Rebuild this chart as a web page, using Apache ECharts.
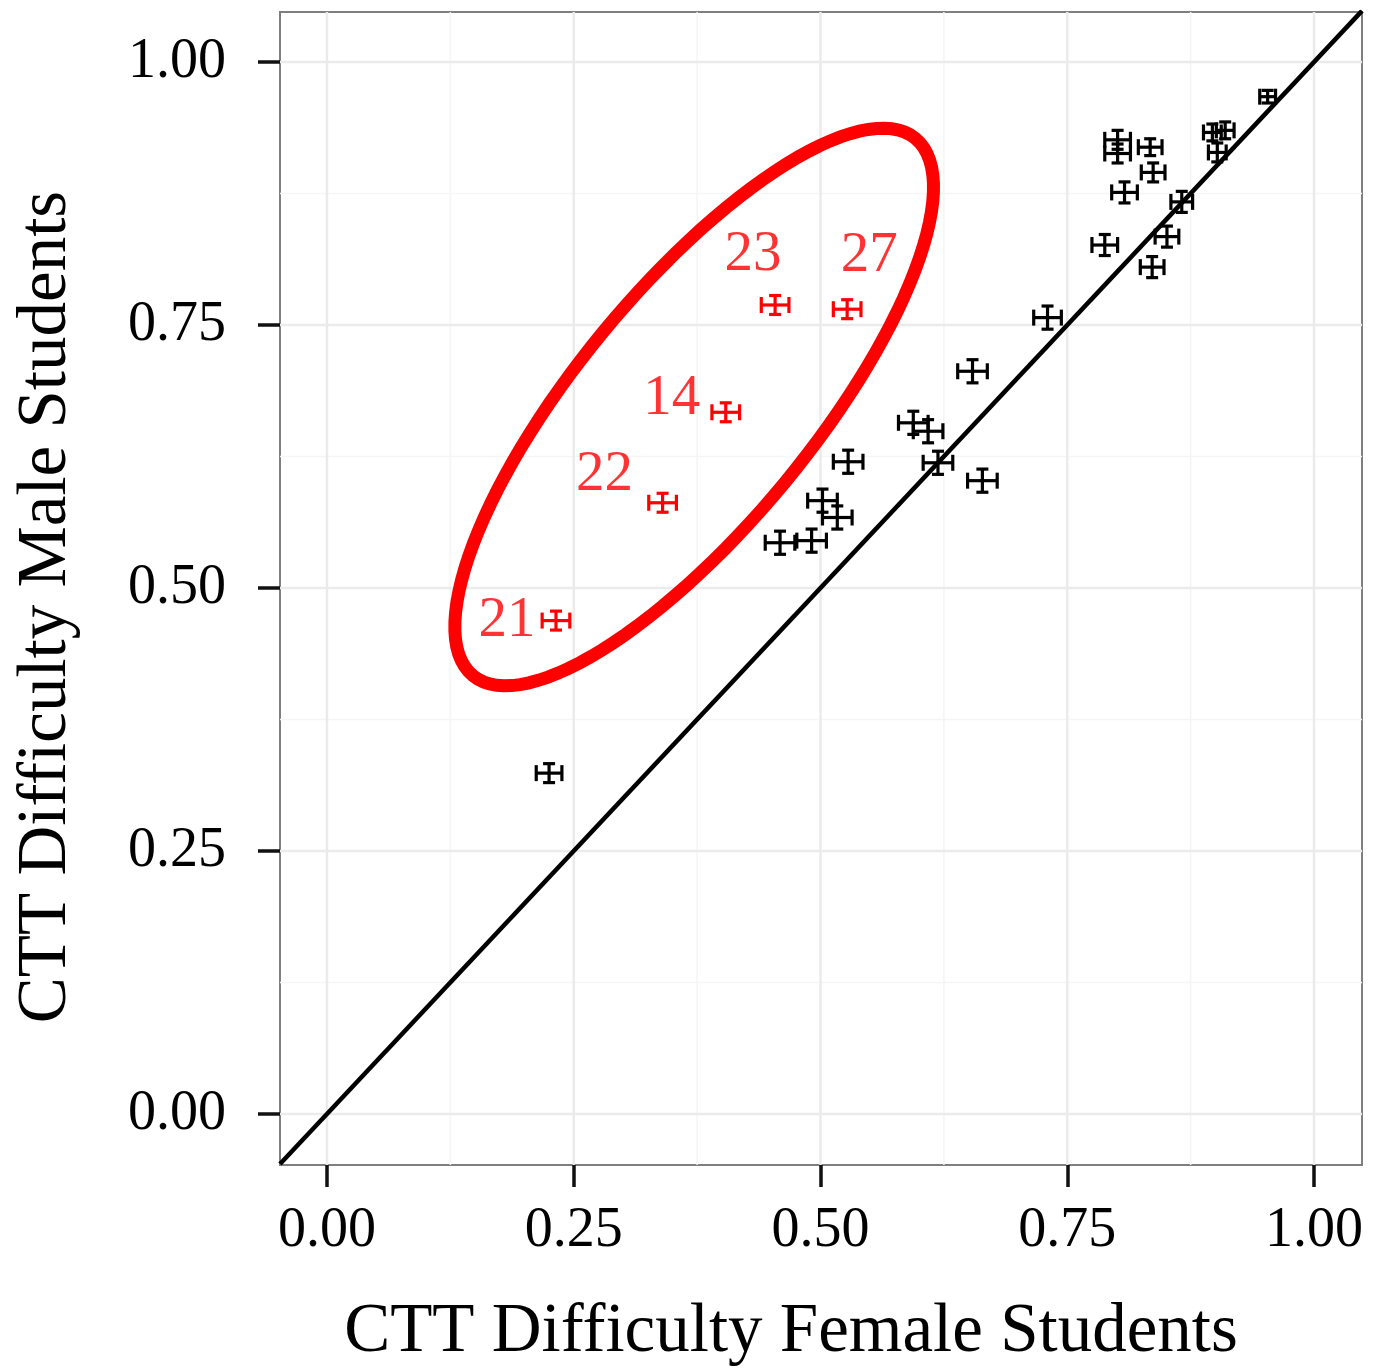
<!DOCTYPE html>
<html>
<head>
<meta charset="utf-8">
<script src="https://cdn.jsdelivr.net/npm/echarts@6/dist/echarts.min.js"></script>
<style>
  html, body { margin: 0; padding: 0; background: #fff; }
  #chart { width: 1378px; height: 1369px; }
</style>
</head>
<body>
<div id="chart"></div>
<script>
// tick values / labels
var tickValues = [0, 0.25, 0.5, 0.75, 1];
var tickLabels = ["0.00", "0.25", "0.50", "0.75", "1.00"];
var minorValues = [0.125, 0.375, 0.625, 0.875];

// items close to the diagonal (black)
var femaleDiff = [0.953, 0.897, 0.910, 0.902, 0.801, 0.801, 0.834, 0.837, 0.808, 0.866, 0.788, 0.851, 0.836,
  0.730, 0.654, 0.594, 0.609, 0.528, 0.619, 0.664, 0.502, 0.517, 0.459, 0.491, 0.225];
var maleDiff = [0.967, 0.933, 0.935, 0.914, 0.926, 0.913, 0.919, 0.895, 0.876, 0.867, 0.826, 0.834, 0.805,
  0.757, 0.706, 0.657, 0.649, 0.620, 0.619, 0.602, 0.583, 0.567, 0.543, 0.545, 0.324];
var femaleErr = [0.008, 0.009, 0.009, 0.009, 0.013, 0.013, 0.012, 0.012, 0.013, 0.011, 0.013, 0.012, 0.012,
  0.014, 0.015, 0.015, 0.015, 0.015, 0.015, 0.015, 0.015, 0.015, 0.015, 0.015, 0.013];
var maleErr = [0.006, 0.008, 0.008, 0.009, 0.009, 0.009, 0.008, 0.009, 0.010, 0.010, 0.010, 0.010, 0.010,
  0.011, 0.011, 0.011, 0.011, 0.011, 0.011, 0.011, 0.011, 0.011, 0.011, 0.011, 0.009];

// flagged items (red)
var flagItems = ["21", "22", "14", "23", "27"];
var flagFemale = [0.232, 0.340, 0.404, 0.454, 0.527];
var flagMale = [0.469, 0.581, 0.667, 0.769, 0.765];
var flagFemaleErr = [0.014, 0.014, 0.014, 0.014, 0.014];
var flagMaleErr = [0.009, 0.009, 0.009, 0.009, 0.009];

var xMin = -0.0476, xMax = 1.0486;
var yMin = -0.0485, yMax = 1.0475;

// label offsets in px (style, not data)
var labelOffset = { "21": [-49, 0], "22": [-58, -28], "14": [-54, -13], "23": [-22, -50], "27": [22, -53] };

var serif = "Liberation Serif";

function errorBars(color) {
  return function (params, api) {
    var x = api.value(0), y = api.value(1), xe = api.value(2), ye = api.value(3);
    var l = api.coord([x - xe, y]);
    var r = api.coord([x + xe, y]);
    var t = api.coord([x, y + ye]);
    var b = api.coord([x, y - ye]);
    var st = { stroke: color, lineWidth: 3.2 };
    var hc = 8, vc = 6;
    return {
      type: "group",
      children: [
        { type: "line", shape: { x1: l[0], y1: l[1], x2: r[0], y2: r[1] }, style: st },
        { type: "line", shape: { x1: l[0], y1: l[1] - hc, x2: l[0], y2: l[1] + hc }, style: st },
        { type: "line", shape: { x1: r[0], y1: r[1] - hc, x2: r[0], y2: r[1] + hc }, style: st },
        { type: "line", shape: { x1: t[0], y1: t[1], x2: b[0], y2: b[1] }, style: st },
        { type: "line", shape: { x1: t[0] - vc, y1: t[1], x2: t[0] + vc, y2: t[1] }, style: st },
        { type: "line", shape: { x1: b[0] - vc, y1: b[1], x2: b[0] + vc, y2: b[1] }, style: st }
      ]
    };
  };
}

function gridLines(params, api) {
  var cs = params.coordSys;
  var v = api.value(0), dir = api.value(1), major = api.value(2);
  var st = { stroke: major ? "#ebebeb" : "#f5f5f5", lineWidth: major ? 2.5 : 1.5 };
  if (dir === 0) {
    var px = api.coord([v, yMin])[0];
    return { type: "line", shape: { x1: px, y1: cs.y, x2: px, y2: cs.y + cs.height }, style: st };
  }
  var py = api.coord([xMin, v])[1];
  return { type: "line", shape: { x1: cs.x, y1: py, x2: cs.x + cs.width, y2: py }, style: st };
}

var gridData = [];
minorValues.forEach(function (v) { gridData.push([v, 0, 0]); gridData.push([v, 1, 0]); });
tickValues.forEach(function (v) { gridData.push([v, 0, 1]); gridData.push([v, 1, 1]); });

var chart = echarts.init(document.getElementById("chart"));
var option = {
  animation: false,
  grid: {
    left: 280, top: 12, right: 16, bottom: 204,
    show: true, borderColor: "#7f7f7f", borderWidth: 2, backgroundColor: "#fff"
  },
  xAxis: {
    type: "value", min: xMin, max: xMax,
    axisLine: { show: false, onZero: false },
    splitLine: { show: false },
    axisTick: { show: true, inside: false, length: 22, customValues: tickValues, lineStyle: { color: "#111", width: 3.5 } },
    axisLabel: {
      customValues: tickValues, margin: 38, color: "#000", fontFamily: serif, fontSize: 56,
      formatter: function (v) { return tickLabels[tickValues.indexOf(v)]; }
    }
  },
  yAxis: {
    type: "value", min: yMin, max: yMax,
    axisLine: { show: false, onZero: false },
    splitLine: { show: false },
    axisTick: { show: true, inside: false, length: 22, customValues: tickValues, lineStyle: { color: "#111", width: 3.5 } },
    axisLabel: {
      customValues: tickValues, margin: 54, color: "#000", fontFamily: serif, fontSize: 56,
      formatter: function (v) { return tickLabels[tickValues.indexOf(v)]; }
    }
  },
  graphic: [
    { type: "text", x: 791, y: 1333, style: { text: "CTT Difficulty Female Students", fill: "#000", font: "69px " + serif, align: "center", verticalAlign: "middle" } },
    { type: "text", x: 47, y: 607, rotation: Math.PI / 2, style: { text: "CTT Difficulty Male Students", fill: "#000", font: "69px " + serif, align: "center", verticalAlign: "middle" } }
  ],
  series: [
    { type: "custom", silent: true, z: 1, data: gridData, renderItem: gridLines },
    {
      type: "line", silent: true, z: 2, symbol: "none",
      data: [[xMin, xMin], [xMax, xMax]],
      lineStyle: { color: "#000", width: 4.5 }
    },
    {
      type: "custom", z: 3, renderItem: errorBars("#000"),
      data: femaleDiff.map(function (v, i) { return [v, maleDiff[i], femaleErr[i], maleErr[i]]; })
    },
    {
      type: "custom", z: 3, renderItem: errorBars("#ff0000"),
      data: flagFemale.map(function (v, i) { return [v, flagMale[i], flagFemaleErr[i], flagMaleErr[i]]; })
    },
    {
      type: "scatter", z: 4, symbolSize: 0, silent: true,
      label: { show: true, position: "inside", color: "#ff0000", fontFamily: serif, fontSize: 57,
        formatter: function (p) { return p.name; } },
      data: flagItems.map(function (n, i) {
        return { name: n, value: [flagFemale[i], flagMale[i]], label: { offset: labelOffset[n] } };
      })
    },
    {
      // hand-drawn ellipse around the flagged items
      type: "custom", z: 5, silent: true,
      data: [[0.372, 0.672]],
      renderItem: function (params, api) {
        var c = api.coord([api.value(0), api.value(1)]);
        var a = 348, b = 118, th = 50.5 * Math.PI / 180;
        var pts = [];
        for (var k = 0; k < 120; k++) {
          var t = k / 120 * 2 * Math.PI;
          var ex = a * Math.cos(t), ey = b * Math.sin(t);
          pts.push([c[0] + ex * Math.cos(th) - ey * Math.sin(th), c[1] - ex * Math.sin(th) - ey * Math.cos(th)]);
        }
        return { type: "polygon", shape: { points: pts }, style: { fill: "none", stroke: "#ff0000", lineWidth: 13 } };
      }
    }
  ]
};
chart.setOption(option);
</script>
</body>
</html>
